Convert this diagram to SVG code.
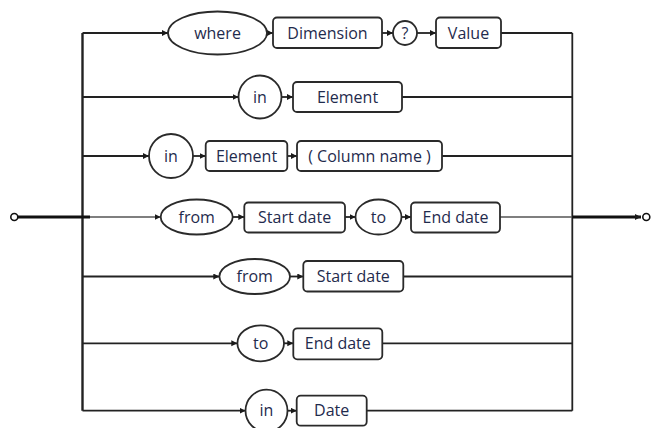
<svg xmlns="http://www.w3.org/2000/svg" width="651" height="428" viewBox="0 0 651 428">
<defs>
<marker id="arr" markerUnits="userSpaceOnUse" markerWidth="7" markerHeight="7" refX="6" refY="3" orient="auto">
<path d="M0,0 L6,3 L0,6 z" fill="#1a1a1a"/>
</marker>
<style>
.ln{fill:none;stroke:#222;stroke-width:1.8}
.lnt{fill:none;stroke:#555;stroke-width:1.5}
.thick{fill:none;stroke:#111;stroke-width:3}
.box{fill:#fff;stroke:#2a2a2a;stroke-width:1.8}
.t{font-family:"Open Sans","Noto Sans","Liberation Sans",sans-serif;font-size:16px;fill:#1f2b4d;text-anchor:middle}
</style>
</defs>
<rect width="651" height="428" fill="#fff"/>
<g id="connectors">
<path class="ln" d="M82.5,33 V410.7" style="stroke-width:2.4"/>
<path class="ln" d="M572.3,33 V410.7"/>
<path class="ln" d="M82.5,33 H168" marker-end="url(#arr)"/>
<path class="ln" d="M267,33 H273" marker-end="url(#arr)"/>
<path class="ln" d="M382,33 H393" marker-end="url(#arr)"/>
<path class="ln" d="M417,33 H436" marker-end="url(#arr)"/>
<path class="ln" d="M501,33 H572.3"/>
<path class="ln" d="M82.5,97 H238.5" marker-end="url(#arr)"/>
<path class="ln" d="M281.5,97 H293" marker-end="url(#arr)"/>
<path class="ln" d="M402,97 H572.3"/>
<path class="ln" d="M82.5,156 H149" marker-end="url(#arr)"/>
<path class="ln" d="M193,156 H205.7" marker-end="url(#arr)"/>
<path class="ln" d="M287.3,156 H297" marker-end="url(#arr)"/>
<path class="ln" d="M442,156 H572.3"/>
<path class="thick" d="M17.8,217 H90"/>
<path class="lnt" d="M90,217 H160.7" marker-end="url(#arr)"/>
<path class="ln" d="M232.7,217 H244.3" marker-end="url(#arr)"/>
<path class="ln" d="M345,217 H355.5" marker-end="url(#arr)"/>
<path class="ln" d="M401.5,217 H411" marker-end="url(#arr)"/>
<path class="lnt" d="M500,217 H572.3"/>
<path class="thick" d="M572.3,217 H641" marker-end="url(#arr)"/>
<path class="ln" d="M82.5,276.5 H219.3" marker-end="url(#arr)"/>
<path class="ln" d="M290,276.5 H303.3" marker-end="url(#arr)"/>
<path class="ln" d="M403.3,276.5 H572.3"/>
<path class="ln" d="M82.5,343.3 H237.3" marker-end="url(#arr)"/>
<path class="ln" d="M284,343.3 H293.3" marker-end="url(#arr)"/>
<path class="ln" d="M382.3,343.3 H572.3"/>
<path class="ln" d="M82.5,410.7 H245.5" marker-end="url(#arr)"/>
<path class="ln" d="M287.5,410.7 H296.7" marker-end="url(#arr)"/>
<path class="ln" d="M366.7,410.7 H572.3"/>
</g>
<g id="start"><circle cx="14.3" cy="217" r="3.5" fill="#fff" stroke="#111" stroke-width="1.6"/></g>
<g id="end"><circle cx="646.3" cy="217" r="3.5" fill="#fff" stroke="#111" stroke-width="1.6"/></g>
<g id="r1-where"><ellipse class="box" cx="217.5" cy="33" rx="49.5" ry="21.5"/><text class="t" x="217.5" y="38.7">where</text></g>
<g id="r1-dimension"><rect class="box" x="273" y="17.5" width="109" height="30.5" rx="4"/><text class="t" x="327.5" y="38.7">Dimension</text></g>
<g id="r1-q"><circle class="box" cx="405" cy="33" r="12"/><text class="t" x="405" y="38.7">?</text></g>
<g id="r1-value"><rect class="box" x="436" y="17.5" width="65" height="30.5" rx="4"/><text class="t" x="468.5" y="38.7">Value</text></g>
<g id="r2-in"><circle class="box" cx="260" cy="97" r="21.5"/><text class="t" x="260" y="102.7">in</text></g>
<g id="r2-element"><rect class="box" x="293" y="82" width="109" height="30" rx="4"/><text class="t" x="347.5" y="102.7">Element</text></g>
<g id="r3-in"><circle class="box" cx="171" cy="156" r="22"/><text class="t" x="171" y="161.7">in</text></g>
<g id="r3-element"><rect class="box" x="205.7" y="141" width="81.6" height="30" rx="4"/><text class="t" x="246.5" y="161.7">Element</text></g>
<g id="r3-column"><rect class="box" x="297" y="141" width="145" height="30" rx="4"/><text class="t" x="369.5" y="161.7">( Column name )</text></g>
<g id="r4-from"><ellipse class="box" cx="196.7" cy="217" rx="36" ry="17.5"/><text class="t" x="196.7" y="222.7">from</text></g>
<g id="r4-start"><rect class="box" x="244.3" y="202.5" width="100.7" height="30" rx="4"/><text class="t" x="294.6" y="222.7">Start date</text></g>
<g id="r4-to"><ellipse class="box" cx="378.5" cy="217" rx="23" ry="17.5"/><text class="t" x="378.5" y="222.7">to</text></g>
<g id="r4-end"><rect class="box" x="411" y="202.5" width="89" height="30" rx="4"/><text class="t" x="455.5" y="222.7">End date</text></g>
<g id="r5-from"><ellipse class="box" cx="254.7" cy="276.5" rx="35.3" ry="17.5"/><text class="t" x="254.7" y="282.2">from</text></g>
<g id="r5-start"><rect class="box" x="303.3" y="261" width="100" height="30.5" rx="4"/><text class="t" x="353.3" y="282.2">Start date</text></g>
<g id="r6-to"><ellipse class="box" cx="260.7" cy="343.3" rx="23.3" ry="18"/><text class="t" x="260.7" y="349">to</text></g>
<g id="r6-end"><rect class="box" x="293.3" y="328.3" width="89" height="31" rx="4"/><text class="t" x="337.8" y="349">End date</text></g>
<g id="r7-in"><circle class="box" cx="266.5" cy="410.7" r="21"/><text class="t" x="266.5" y="416.4">in</text></g>
<g id="r7-date"><rect class="box" x="296.7" y="395.7" width="70" height="30" rx="4"/><text class="t" x="331.7" y="416.4">Date</text></g>
</svg>
